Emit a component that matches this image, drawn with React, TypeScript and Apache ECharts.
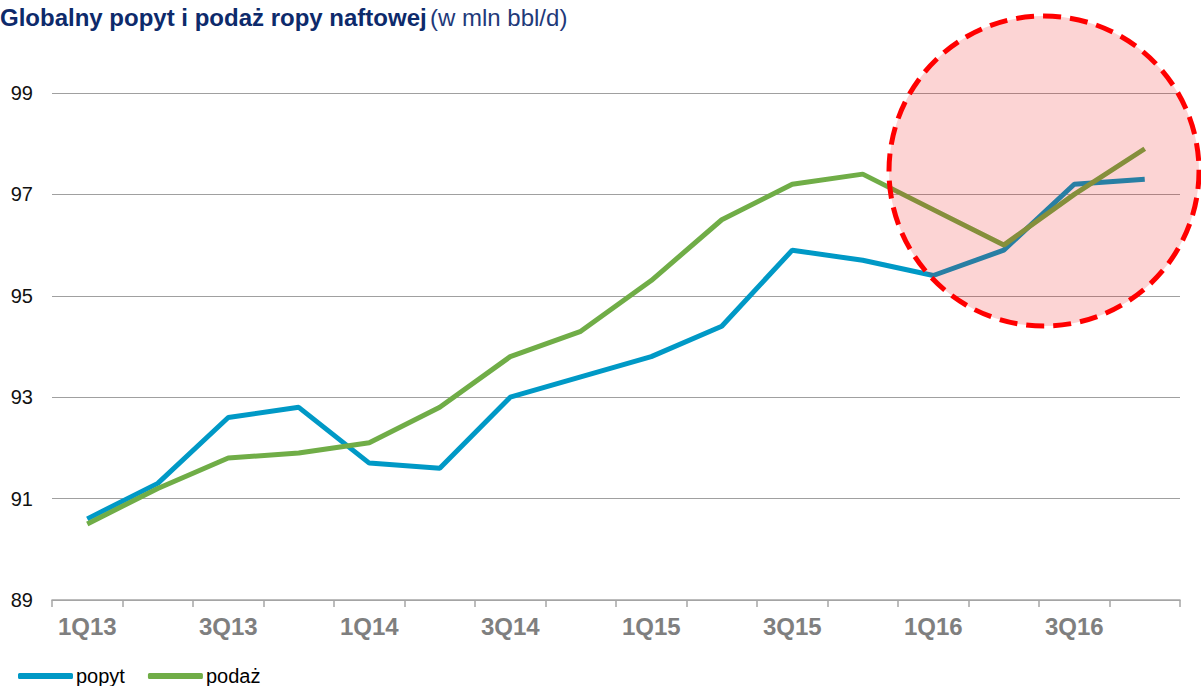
import React, { useEffect, useRef } from "react";
import * as echarts from "echarts";

const categories = ["1Q13","2Q13","3Q13","4Q13","1Q14","2Q14","3Q14","4Q14","1Q15","2Q15","3Q15","4Q15","1Q16","2Q16","3Q16","4Q16"];
const popyt = [90.6, 91.3, 92.6, 92.8, 91.7, 91.6, 93.0, 93.4, 93.8, 94.4, 95.9, 95.7, 95.4, 95.9, 97.2, 97.3];
const podaz = [90.5, 91.2, 91.8, 91.9, 92.1, 92.8, 93.8, 94.3, 95.3, 96.5, 97.2, 97.4, 96.7, 96.0, 97.0, 97.9];
const yTicks = [89, 91, 93, 95, 97, 99];

const FONT = "'Liberation Sans', Arial, sans-serif";

export default function App() {
  const ref = useRef<HTMLDivElement>(null);
  useEffect(() => {
    if (!ref.current) return;
    const chart = echarts.init(ref.current, null, { renderer: "svg" });
    chart.setOption({
      animation: false,
      backgroundColor: "#ffffff",
      textStyle: { fontFamily: FONT },
      grid: { left: 52, right: 21, top: 93, bottom: 86, containLabel: false },
      legend: {
        left: 18,
        top: 666,
        padding: 0,
        icon: "roundRect",
        itemWidth: 55,
        itemHeight: 6,
        itemGap: 23,
        itemStyle: { borderWidth: 0 },
        textStyle: { fontSize: 20, color: "#000000", fontFamily: FONT, padding: [0, 0, 0, -2] },
        data: ["popyt", "podaż"],
      },
      xAxis: {
        type: "category",
        data: categories,
        boundaryGap: true,
        axisLine: { show: true, lineStyle: { color: "#a6a6a6", width: 1.5 } },
        axisTick: { show: true, length: 7, interval: 0, lineStyle: { color: "#a6a6a6", width: 1.5 } },
        axisLabel: {
          interval: 1,
          color: "#7f7f7f",
          fontWeight: "bold",
          fontSize: 24,
          fontFamily: FONT,
          margin: 14,
        },
        splitLine: { show: false },
      },
      yAxis: {
        type: "value",
        min: yTicks[0],
        max: yTicks[yTicks.length - 1],
        interval: 2,
        axisLine: { show: false },
        axisTick: { show: false },
        axisLabel: { color: "#111111", fontSize: 20, margin: 19, fontFamily: FONT },
        splitLine: { show: true, lineStyle: { color: "#a0a0a0", width: 1 } },
      },
      series: [
        {
          name: "popyt",
          type: "line",
          data: popyt,
          symbol: "none",
          lineStyle: { color: "#0099c6", width: 5 },
          itemStyle: { color: "#0099c6" },
        },
        {
          name: "podaż",
          type: "line",
          data: podaz,
          symbol: "none",
          lineStyle: { color: "#70ad47", width: 5 },
          itemStyle: { color: "#70ad47" },
        },
      ],
      graphic: [
        {
          type: "text",
          x: 0,
          y: 17,
          style: {
            text: "{b|Globalny popyt i podaż ropy naftowej} {n|(w mln bbl/d)}",
            verticalAlign: "middle",
            rich: {
              b: { fontSize: 24, fontWeight: "bold", fill: "#0d2a6b", fontFamily: FONT },
              n: { fontSize: 24, fontWeight: "normal", fill: "#1f3a7a", fontFamily: FONT },
            },
          },
        },
        {
          type: "circle",
          z: 100,
          shape: { cx: 1044, cy: 171, r: 155 },
          style: {
            fill: "rgba(240,0,0,0.17)",
            stroke: "#ff0000",
            lineWidth: 5,
            lineDash: [18, 9],
          },
        },
      ],
    });
    return () => chart.dispose();
  }, []);
  return (
    <div style={{ position: "fixed", left: 0, top: 0, width: 1201, height: 686, overflow: "hidden", background: "#fff" }}>
      <div ref={ref} style={{ width: 1201, height: 686 }} />
    </div>
  );
}
